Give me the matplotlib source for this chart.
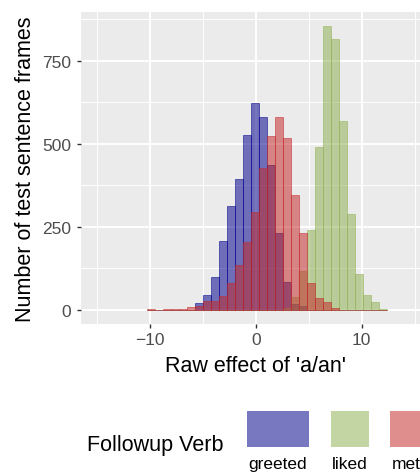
import numpy as np
import matplotlib.pyplot as plt
from matplotlib.patches import Rectangle

plt.rcParams['font.family'] = ['Liberation Sans', 'DejaVu Sans']

# 30 shared bins
bin_start = -10.28
bin_width = 0.757

greeted = [0, 0, 0, 0, 0, 0, 20, 44, 98, 206, 314, 395, 527, 623, 581,
           437, 230, 83, 17, 10, 0, 0, 0, 0, 0, 0, 0, 0, 0, 0]
liked = [0, 0, 0, 0, 0, 0, 0, 0, 0, 0, 0, 0, 0, 0, 0,
         0, 0, 5, 38, 118, 239, 491, 854, 815, 569, 287, 107, 44, 23, 2]
met = [1, 0, 1, 1, 2, 7, 12, 26, 26, 42, 80, 134, 203, 294, 428,
       524, 581, 518, 347, 230, 80, 35, 23, 5, 0, 0, 0, 0, 0, 0]

verbs = ['greeted', 'liked', 'met']
fills = ['#00008B', '#8EB051', '#C42828']
x_ticks = [-10, 0, 10]
x_minor = [-15, -5, 5, 15]
y_ticks = [0, 250, 500, 750]
y_minor = [125, 375, 625, 875]

W, H = 420, 477
fig = plt.figure(figsize=(W / 100, H / 100), dpi=100)
ax = fig.add_axes([81 / W, 1 - 325 / H, (430.6 - 81) / W, (325 - 13) / H])
ax.set_facecolor('#EBEBEB')

edges = bin_start + bin_width * np.arange(len(greeted))
for counts, c in zip([greeted, liked, met], fills):
    ax.bar(edges, counts, width=bin_width, align='edge', color=c,
           edgecolor=c, alpha=0.53, linewidth=0.7)

ax.set_xlim(-16.5, 16.5)
ax.set_ylim(-42.7, 896.7)
ax.set_xticks(x_ticks)
ax.set_xticks(x_minor, minor=True)
ax.set_yticks(y_ticks)
ax.set_yticks(y_minor, minor=True)
ax.set_axisbelow(True)
ax.grid(which='major', color='white', linewidth=1.4)
ax.grid(which='minor', color='white', linewidth=0.7)
for s in ax.spines.values():
    s.set_visible(False)
ax.tick_params(which='major', length=3.1, width=1.0, color='#333333',
               labelcolor='#4D4D4D', labelsize=12.5, pad=2.5)
ax.tick_params(axis='y', which='major', pad=4)
ax.tick_params(which='minor', length=0)

ax.set_xlabel("Raw effect of 'a/an'", fontsize=15.5, color='black')
ax.set_ylabel('Number of test sentence frames', fontsize=15.5, color='black')
ax.xaxis.set_label_coords(0.5, -0.10)
ax.yaxis.set_label_coords(-0.129, 0.5)

# legend at the bottom (drawn by hand, ggplot style)
def fx(px):
    return px / W

def fy(py):
    return 1 - py / H

fig.text(fx(87), fy(445), 'Followup Verb', fontsize=15.5, va='center', ha='left')
key_x = [246.7, 330.7, 390.0]
key_w = [62.3, 38.0, 31.5]
for name, c, kx, kw in zip(verbs, fills, key_x, key_w):
    fig.add_artist(Rectangle((fx(kx), fy(447.7)), kw / W, 36 / H,
                             transform=fig.transFigure, facecolor=c,
                             alpha=0.53, edgecolor='none'))
    fig.text(fx(kx + kw / 2), fy(469), name, fontsize=12.5,
             ha='center', va='baseline')

fig.savefig('out.png', dpi=100)
